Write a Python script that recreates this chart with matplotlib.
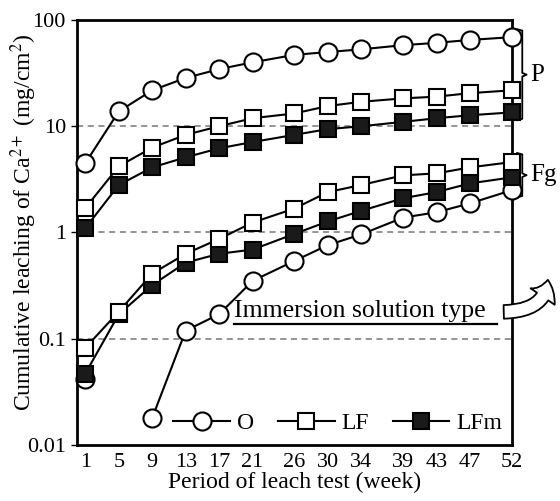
import matplotlib
matplotlib.use("Agg")
import matplotlib.pyplot as plt
from matplotlib.patches import FancyArrowPatch
from matplotlib.ticker import FixedLocator, FixedFormatter

plt.rcParams["font.family"] = ["Liberation Serif", "DejaVu Serif"]
plt.rcParams["mathtext.fontset"] = "stix"

weeks = [1, 5, 9, 13, 17, 21, 26, 30, 34, 39, 43, 47, 52]

# P group
p_o = [4.5, 13.8, 21.8, 28.5, 34.5, 40, 47, 50, 53, 58, 61, 65, 69]
p_lf = [1.7, 4.2, 6.3, 8.3, 10, 11.9, 13.2, 15.5, 17, 18.3, 19, 20.5, 21.8]
p_lfm = [1.1, 2.8, 4.1, 5.1, 6.2, 7.1, 8.3, 9.4, 10.0, 11, 11.9, 12.7, 13.5]

# Fg group (O starts at week 9)
fg_o_weeks = [9, 13, 17, 21, 26, 30, 34, 39, 43, 47, 52]
fg_o = [0.018, 0.119, 0.17, 0.35, 0.54, 0.76, 0.96, 1.38, 1.55, 1.88, 2.5]
fg_o_w1 = 0.042
fg_lf = [0.082, 0.18, 0.41, 0.63, 0.87, 1.24, 1.68, 2.4, 2.8, 3.45, 3.6, 4.1, 4.6]
fg_lfm = [0.047, 0.17, 0.32, 0.52, 0.63, 0.69, 0.97, 1.27, 1.6, 2.1, 2.4, 2.9, 3.3]

ytick_vals = [0.01, 0.1, 1, 10, 100]
ytick_labels = ["0.01", "0.1", "1", "10", "100"]

fig = plt.figure(figsize=(5.6, 5.01), dpi=100)
ax = fig.add_axes([0.1375, 0.112, 0.7765, 0.848])

line_kw = dict(color="black", linewidth=1.5, zorder=3, clip_on=False)
circ = dict(marker="o", markersize=13, markerfacecolor="white",
            markeredgecolor="black", markeredgewidth=1.5)
sq_open = dict(marker="s", markersize=11.5, markerfacecolor="white",
               markeredgecolor="black", markeredgewidth=1.5)
sq_fill = dict(marker="s", markersize=11.5, markerfacecolor="#1a1a1a",
               markeredgecolor="black", markeredgewidth=1.5)

ax.plot(weeks, p_o, label="O", **circ, **line_kw)
ax.plot(weeks, p_lf, label="LF", **sq_open, **line_kw)
ax.plot(weeks, p_lfm, label="LFm", **sq_fill, **line_kw)

ax.plot([weeks[0]], [fg_o_w1], linestyle="none", **circ, zorder=3, clip_on=False)
ax.plot(fg_o_weeks, fg_o, **circ, **line_kw)
ax.plot(weeks, fg_lfm, **sq_fill, **line_kw)
ax.plot(weeks, fg_lf, **sq_open, **line_kw)

ax.set_yscale("log")
ax.set_ylim(0.01, 100)
ax.set_xlim(0, 52)
ax.yaxis.set_major_locator(FixedLocator(ytick_vals))
ax.yaxis.set_major_formatter(FixedFormatter(ytick_labels))
ax.yaxis.set_minor_locator(FixedLocator([]))
ax.set_xticks(weeks)
ax.tick_params(axis="both", labelsize=16, length=4, width=1, direction="out", pad=4)
ax.tick_params(axis="x", length=0, pad=6)

for v in [0.1, 1, 10]:
    ax.axhline(v, color="#777777", linestyle=(0, (4, 3)), linewidth=1.1, zorder=1)

for s in ax.spines.values():
    s.set_linewidth(2)

ax.set_xlabel("Period of leach test (week)", fontsize=17, labelpad=0)
# y label placed by hand, close to the tick labels as in the original figure
fig.text(0.042, 0.557, "Cumulative leaching of Ca$^{2+}$ (mg/cm$^{2}$)", fontsize=17,
         rotation=90, ha="center", va="center")

leg = ax.legend(loc="lower center", bbox_to_anchor=(0.6, -0.025), ncol=3, frameon=False,
                fontsize=17, handlelength=2.4, columnspacing=1.0, handletextpad=0.3)

ax.text(0.36, 0.29, "Immersion solution type", transform=ax.transAxes,
        fontsize=18.5, ha="left", va="bottom")
ax.plot([0.36, 0.965], [0.284, 0.284], transform=ax.transAxes, color="black",
        linewidth=1.6, clip_on=False)

arrow = FancyArrowPatch((0.975, 0.313), (1.083, 0.395), transform=ax.transAxes,
                        connectionstyle="angle3,angleA=0,angleB=90",
                        arrowstyle="simple,head_width=1.5,head_length=0.9,tail_width=0.7",
                        mutation_scale=14, facecolor="white", edgecolor="black",
                        linewidth=1.3, clip_on=False, zorder=5)
ax.add_patch(arrow)


def brace(y0, y1, x, label):
    ym = (y0 * y1) ** 0.5
    xs = [x, x + 0.012, x + 0.012, x + 0.022, x + 0.012, x + 0.012, x]
    ys = [y1, y1 * 0.97, ym * 1.04, ym, ym / 1.04, y0 / 0.97, y0]
    ax.plot(xs, ys, transform=ax.get_yaxis_transform(), color="black",
            linewidth=1.3, clip_on=False)
    ax.text(x + 0.03, ym, label, transform=ax.get_yaxis_transform(),
            fontsize=18, ha="left", va="center")


brace(11.4, 82, 1.012, "P")
brace(2.14, 5.6, 1.012, "Fg")

fig.savefig("out.png", dpi=100)
